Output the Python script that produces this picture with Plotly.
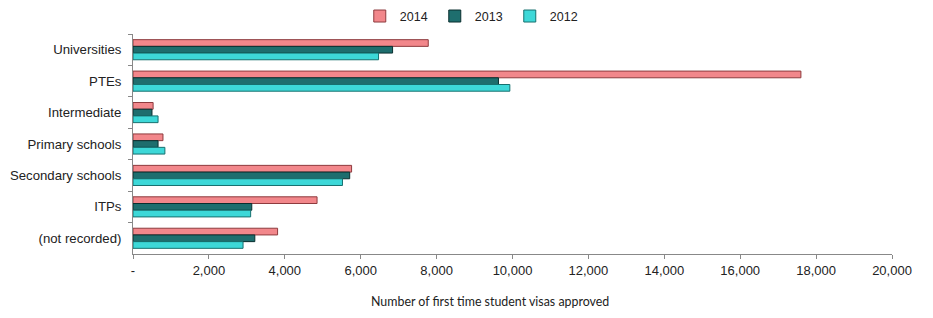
import plotly.graph_objects as go

categories = ["Universities", "PTEs", "Intermediate", "Primary schools",
              "Secondary schools", "ITPs", "(not recorded)"]
v2014 = [7780, 17600, 530, 790, 5760, 4850, 3810]
v2013 = [6840, 9630, 500, 660, 5710, 3130, 3210]
v2012 = [6470, 9930, 660, 840, 5520, 3100, 2900]

tick_vals = [0, 2000, 4000, 6000, 8000, 10000, 12000, 14000, 16000, 18000, 20000]
tick_text = ["-", "2,000", "4,000", "6,000", "8,000", "10,000", "12,000",
             "14,000", "16,000", "18,000", "20,000"]
x_title = "Number of first time student visas approved"

series = [
    ("2014", v2014, "#F2878B", "#8E3B3E"),
    ("2013", v2013, "#1E6E6E", "#0A2F2F"),
    ("2012", v2012, "#3DD8D8", "#17706F"),
]

fig = go.Figure()
for name, vals, col, edge in series:
    fig.add_trace(go.Bar(
        y=categories, x=vals, name=name, orientation="h",
        marker=dict(color=col, line=dict(color=edge, width=1)),
    ))

fig.add_annotation(text=x_title, xref="paper", yref="paper", x=0.470, y=-0.215,
                   xanchor="center", yanchor="middle", showarrow=False,
                   font=dict(family="Lato, sans-serif", size=12.4, color="#222"))

fig.update_layout(
    width=933, height=318,
    margin=dict(l=125, r=49, t=26, b=72, autoexpand=False),
    paper_bgcolor="white", plot_bgcolor="white",
    barmode="group", bargap=0.36, bargroupgap=0.0,
    font=dict(family="Liberation Sans, Arial, sans-serif", size=12, color="#222"),
    showlegend=True,
    legend=dict(orientation="h", x=0.447, xanchor="center", y=1.08, yanchor="middle",
                font=dict(size=12.5, color="#222"), itemwidth=30, entrywidth=30,
                tracegroupgap=0, bgcolor="rgba(0,0,0,0)"),
    xaxis=dict(range=[0, 20000], tickvals=tick_vals, ticktext=tick_text,
               showgrid=False, zeroline=False, showline=True, linecolor="#888",
               linewidth=1, ticks="outside", ticklen=4, tickcolor="#888",
               tickfont=dict(size=13, color="#222")),
    yaxis=dict(autorange="reversed", showgrid=False, zeroline=False, showline=True,
               linecolor="#888", linewidth=1, ticks="outside", ticklen=4,
               tickcolor="#888", tickson="boundaries",
               tickfont=dict(size=13.2, color="#222"), ticklabelstandoff=8),
)

fig.write_html("out.html")
